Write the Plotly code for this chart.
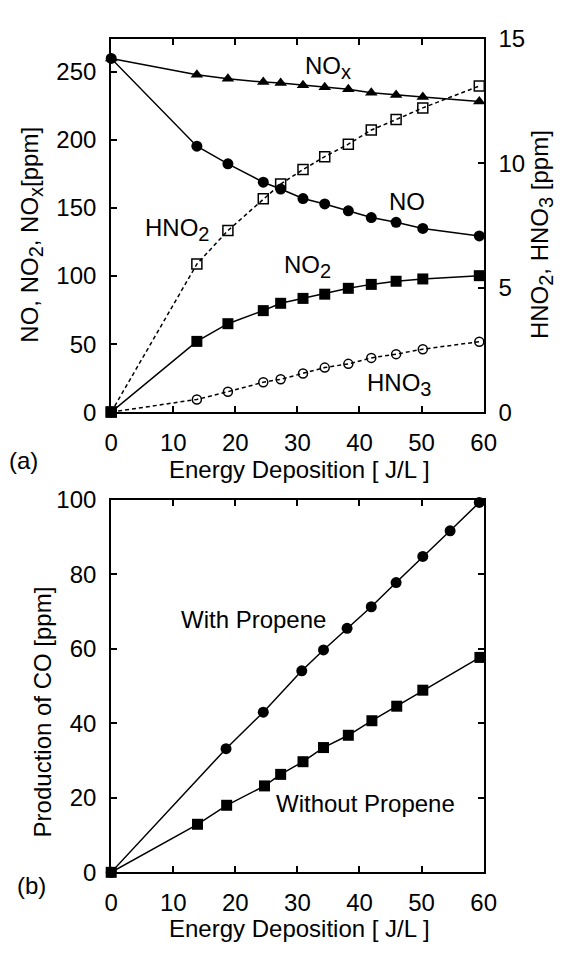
import plotly.graph_objects as go

# ---- data (panel a) ----
energy_a = [0, 13.8, 18.8, 24.5, 27.3, 30.9, 34.4, 38.2, 41.9, 45.9, 50.2, 59.3]
nox = [260, 248, 245, 242.6, 242, 240.3, 238.8, 237.4, 234.8, 233.1, 231.7, 228.4]
no = [260, 195.5, 182.5, 169, 164, 157, 153, 148, 143, 139.5, 135, 129.5]
no2 = [0, 52, 65, 74.6, 80, 83.6, 86.7, 91, 93.9, 96.2, 97.9, 100.3]
hno2 = [0, 5.95, 7.3, 8.58, 9.17, 9.75, 10.27, 10.77, 11.34, 11.76, 12.23, 13.11]
hno3 = [0, 0.51, 0.82, 1.2, 1.32, 1.55, 1.79, 1.94, 2.18, 2.33, 2.53, 2.83]

# ---- data (panel b) ----
energy_with = [0, 18.5, 24.5, 30.7, 34.2, 38.0, 41.9, 45.9, 50.2, 54.6, 59.3]
co_with = [0, 33.2, 43.0, 54.1, 59.7, 65.5, 71.3, 77.8, 84.8, 91.7, 99.3]
energy_without = [0, 13.9, 18.6, 24.7, 27.3, 30.9, 34.2, 38.2, 42.0, 46.0, 50.2, 59.4]
co_without = [0, 12.9, 18.0, 23.2, 26.3, 29.7, 33.5, 36.8, 40.7, 44.6, 48.9, 57.7]

W, H = 569, 955
FONT = "Liberation Sans, Arial, sans-serif"
FS = 24

def px(xpix):
    return xpix / W

def py(ypix):
    return 1 - ypix / H

def sub(s):
    return "<sub><span style='font-size:%dpx'>%s</span></sub>" % (int(FS * 0.85), s)

fig = go.Figure()

solid = dict(color="black", width=1.5)
dashed = dict(color="black", width=1.5, dash="4px,3px")

fig.add_trace(go.Scatter(x=energy_a, y=nox, mode="lines+markers", line=solid,
                         marker=dict(symbol="triangle-up", size=11, color="black"),
                         xaxis="x", yaxis="y", cliponaxis=False, name="NOx"))
fig.add_trace(go.Scatter(x=energy_a, y=no, mode="lines+markers", line=solid,
                         marker=dict(symbol="circle", size=11, color="black"),
                         xaxis="x", yaxis="y", cliponaxis=False, name="NO"))
fig.add_trace(go.Scatter(x=energy_a, y=no2, mode="lines+markers", line=solid,
                         marker=dict(symbol="square", size=11, color="black"),
                         xaxis="x", yaxis="y", cliponaxis=False, name="NO2"))
fig.add_trace(go.Scatter(x=energy_a, y=hno2, mode="lines+markers", line=dashed,
                         marker=dict(symbol="square-open", size=10, color="black",
                                     line=dict(width=1.5, color="black")),
                         xaxis="x", yaxis="y2", cliponaxis=False, name="HNO2"))
fig.add_trace(go.Scatter(x=energy_a, y=hno3, mode="lines+markers", line=dashed,
                         marker=dict(symbol="circle-open", size=9, color="black",
                                     line=dict(width=1.5, color="black")),
                         xaxis="x", yaxis="y2", cliponaxis=False, name="HNO3"))

fig.add_trace(go.Scatter(x=energy_with, y=co_with, mode="lines+markers", line=solid,
                         marker=dict(symbol="circle", size=11, color="black"),
                         xaxis="x2", yaxis="y3", cliponaxis=False, name="With Propene"))
fig.add_trace(go.Scatter(x=energy_without, y=co_without, mode="lines+markers", line=solid,
                         marker=dict(symbol="square", size=11, color="black"),
                         xaxis="x2", yaxis="y3", cliponaxis=False, name="Without Propene"))

xdom = [px(108), px(494)]
top_dom = [py(409.7), py(25.7)]
bot_dom = [py(883.3), py(500)]

axis_common = dict(showgrid=False, zeroline=False, showline=True, linecolor="black",
                   linewidth=2, ticks="inside", ticklen=6, tickwidth=1.5,
                   tickcolor="black", tickfont=dict(family=FONT, size=FS, color="black"))

fig.update_layout(
    width=W, height=H, autosize=False,
    margin=dict(l=0, r=0, t=0, b=0),
    paper_bgcolor="white", plot_bgcolor="white",
    showlegend=False,
    font=dict(family=FONT, size=FS, color="black"),
    xaxis=dict(domain=xdom, anchor="y", range=[0, 60], dtick=10, mirror="ticks",
               ticklabelstandoff=8, **axis_common),
    yaxis=dict(domain=top_dom, anchor="x", range=[0, 274.3], dtick=50,
               ticklabelstandoff=8, **axis_common),
    yaxis2=dict(overlaying="y", side="right", anchor="x", range=[0, 15], dtick=5,
                ticklabelstandoff=8, **axis_common),
    xaxis2=dict(domain=xdom, anchor="y3", range=[0, 60], dtick=10, mirror="ticks",
                ticklabelstandoff=8, **axis_common),
    yaxis3=dict(domain=bot_dom, anchor="x2", range=[0, 100], dtick=20, mirror="ticks",
                ticklabelstandoff=8, **axis_common),
)

ann = []
def A(text, x, y, xref, yref, angle=0):
    ann.append(dict(text=text, x=x, y=y, xref=xref, yref=yref, showarrow=False,
                    xanchor="center", yanchor="middle", textangle=angle,
                    font=dict(family=FONT, size=FS, color="black")))

# in-plot labels, panel a
A("NO" + sub("x"), 35.0, 253.4, "x", "y")
A("NO", 47.6, 154.8, "x", "y")
A("HNO" + sub("2"), 10.6, 134, "x", "y")
A("NO" + sub("2"), 31.6, 107, "x", "y")
A("HNO" + sub("3"), 46.3, 20.5, "x", "y")
# in-plot labels, panel b
A("With Propene", 23.0, 67.9, "x2", "y3")
A("Without Propene", 40.9, 18.4, "x2", "y3")

# axis titles and panel tags
A("Energy Deposition [ J/L ]", px(303), py(469), "paper", "paper")
A("Energy Deposition [ J/L ]", px(303), py(941), "paper", "paper")
A("NO, NO" + sub("2") + ", NO" + sub("x") + "[ppm]", px(25), py(227), "paper", "paper", -90)
A("HNO" + sub("2") + ", HNO" + sub("3") + " [ppm]", px(554), py(227), "paper", "paper", -90)
A("Production of CO [ppm]", px(37), py(718), "paper", "paper", -90)
A("(a)", px(17), py(459), "paper", "paper")
A("(b)", px(25), py(897), "paper", "paper")

fig.update_layout(annotations=ann)

fig.write_html("out.html", config={"displayModeBar": False},
               post_script="document.body.style.margin='0';document.body.style.overflow='hidden';")
